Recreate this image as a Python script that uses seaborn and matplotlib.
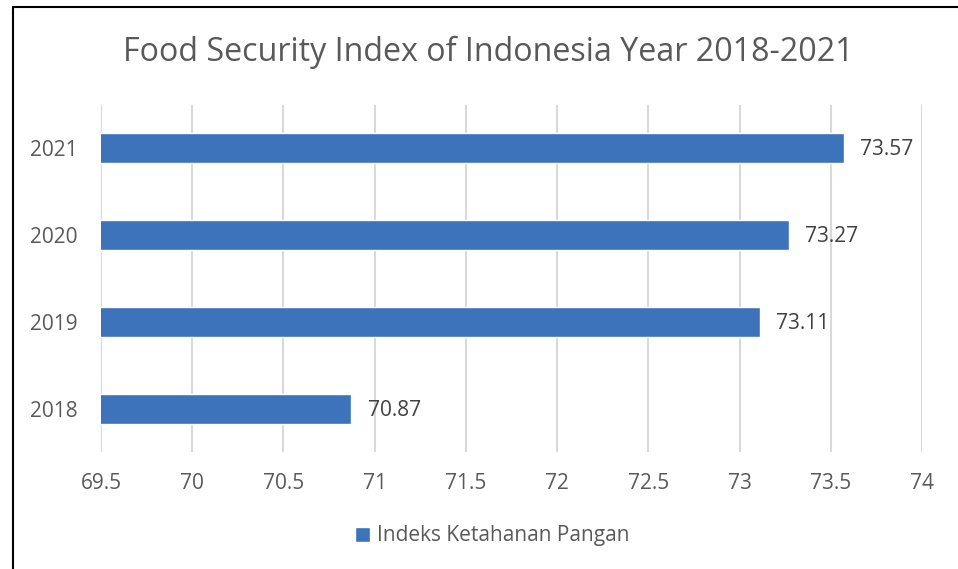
import matplotlib
matplotlib.use("Agg")
import matplotlib.pyplot as plt
from matplotlib.lines import Line2D
import seaborn as sns
import pandas as pd

# Food security index values by year
years = ["2021", "2020", "2019", "2018"]
index_values = [73.57, 73.27, 73.11, 70.87]
series_name = "Indeks Ketahanan Pangan"
x_ticks = [69.5, 70, 70.5, 71, 71.5, 72, 72.5, 73, 73.5, 74]
x_tick_labels = ["69.5", "70", "70.5", "71", "71.5", "72", "72.5", "73", "73.5", "74"]

df = pd.DataFrame({"Year": years, "Index": index_values, "Series": series_name})

sns.set_theme(style="white")
plt.rcParams["font.family"] = ["Open Sans", "DejaVu Sans"]

text_color = "#595959"
bar_color = "#3C73BA"
grid_color = "#D9D9D9"

fig = plt.figure(figsize=(9.58, 5.69), dpi=100)
ax = fig.add_axes([101 / 958, 1 - 452 / 569, (922 - 101) / 958, (452 - 105) / 569])

sns.barplot(data=df, x="Index", y="Year", hue="Series", order=years,
            palette=[bar_color], orient="h", width=0.345, ax=ax,
            legend=True, saturation=1)

ax.set_xlim(69.5, 74)
ax.set_ylim(3.5, -0.5)
ax.set_xticks(x_ticks)
ax.set_xticklabels(x_tick_labels)
ax.set_xlabel("")
ax.set_ylabel("")
ax.tick_params(axis="x", length=0, pad=15, labelsize=15, labelcolor=text_color)
ax.tick_params(axis="y", length=0, pad=17, labelsize=15, labelcolor=text_color)
ax.grid(axis="x", color=grid_color, linewidth=1.5)
ax.set_axisbelow(True)
for s in ax.spines.values():
    s.set_visible(False)

# Value labels next to each bar
for i, v in enumerate(index_values):
    ax.annotate(f"{v:.2f}", xy=(v, i), xytext=(12, -1), textcoords="offset points",
                va="center", ha="left", fontsize=15, color="#404040")

# Legend below the plot
leg = ax.get_legend()
handles, labels = ax.get_legend_handles_labels()
leg.remove()
fig.legend(handles, labels, loc="center", bbox_to_anchor=(492 / 958, 1 - 536 / 569),
           frameon=False, fontsize=15, labelcolor=text_color, handlelength=0.75,
           handleheight=0.75, handletextpad=0.3)

fig.text(488 / 958, 1 - 52 / 569, "Food Security Index of Indonesia Year 2018-2021",
         ha="center", va="center", fontsize=23.2, color=text_color)

# Chart area border
fig.add_artist(Line2D([13 / 958, 13 / 958], [0, 1 - 7 / 569], color="black", linewidth=1.5))
fig.add_artist(Line2D([13 / 958, 1], [1 - 7 / 569, 1 - 7 / 569], color="black", linewidth=1.5))

fig.savefig("out.png", dpi=100, facecolor="white")
